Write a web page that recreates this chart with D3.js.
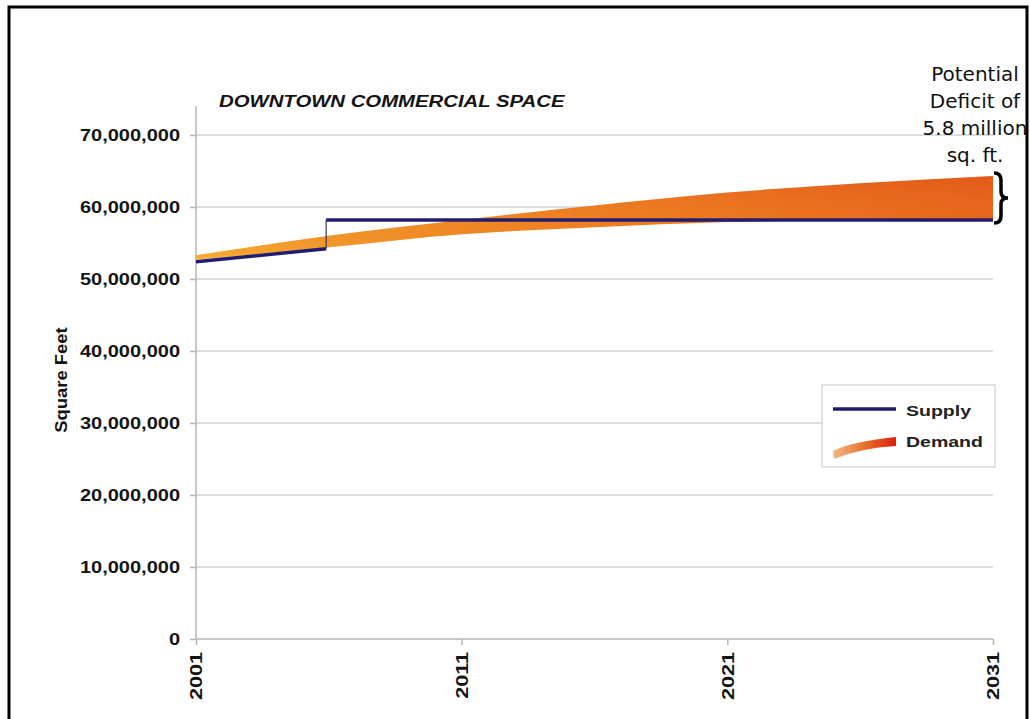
<!DOCTYPE html>
<html>
<head>
<meta charset="utf-8">
<script src="https://cdn.jsdelivr.net/npm/d3@7"></script>
<style>
  html, body { margin: 0; padding: 0; background: #fff; }
  svg { display: block; }
</style>
</head>
<body>
<svg id="chart" width="1030" height="719"></svg>
<script>
// ---------------- DATA ----------------
const years = [2001, 2006, 2011, 2016, 2021, 2026, 2031];
const demandHigh = [53.3e6, 56.0e6, 58.2e6, 60.2e6, 62.0e6, 63.3e6, 64.3e6];
const demandLow  = [52.7e6, 54.4e6, 56.2e6, 57.2e6, 57.9e6, 58.2e6, 58.3e6];
const supplyYears  = [2001, 2005.9, 2005.9, 2031];
const supplyValues = [52.4e6, 54.2e6, 58.2e6, 58.2e6];
const xTickYears = [2001, 2011, 2021, 2031];
const yTickValues = [0, 10e6, 20e6, 30e6, 40e6, 50e6, 60e6, 70e6];
const chartTitle = "DOWNTOWN COMMERCIAL SPACE";
const yAxisTitle = "Square Feet";
const legendLabels = ["Supply", "Demand"];
const noteLines = ["Potential", "Deficit of", "5.8 million", "sq. ft."];

// ---------------- SETUP ----------------
const svg = d3.select("#chart");
const x = d3.scaleLinear().domain([2001, 2031]).range([196, 993]);
const y = d3.scaleLinear().domain([0, 70e6]).range([639, 135]);
const fmt = d3.format(",");
const navy = "#221c6e";
const textCol = "#141414";
const baseFont = "'Liberation Sans', Arial, sans-serif";

function widen(sel, f) {
  sel.each(function () {
    const l = this.getComputedTextLength();
    d3.select(this).attr("textLength", l * f).attr("lengthAdjust", "spacingAndGlyphs");
  });
}

const defs = svg.append("defs");
const gH = defs.append("linearGradient").attr("id", "bandH")
  .attr("gradientUnits", "userSpaceOnUse")
  .attr("x1", x(2001)).attr("x2", x(2031)).attr("y1", 0).attr("y2", 0);
gH.append("stop").attr("offset", "0").attr("stop-color", "#f2a535");
gH.append("stop").attr("offset", "0.3").attr("stop-color", "#ef8a25");
gH.append("stop").attr("offset", "1").attr("stop-color", "#e8661c");
const gV = defs.append("linearGradient").attr("id", "bandV")
  .attr("x1", 0).attr("x2", 0).attr("y1", 0).attr("y2", 1);
gV.append("stop").attr("offset", "0").attr("stop-color", "#d83a14").attr("stop-opacity", 0.3);
gV.append("stop").attr("offset", "0.55").attr("stop-color", "#e87020").attr("stop-opacity", 0.0);
gV.append("stop").attr("offset", "1").attr("stop-color", "#ffb828").attr("stop-opacity", 0.45);
const gL = defs.append("linearGradient").attr("id", "legG")
  .attr("x1", 0).attr("x2", 1).attr("y1", 0).attr("y2", 0);
gL.append("stop").attr("offset", "0").attr("stop-color", "#f3b886");
gL.append("stop").attr("offset", "0.5").attr("stop-color", "#e8702a");
gL.append("stop").attr("offset", "1").attr("stop-color", "#dc1e10");

// ---------------- GRID ----------------
svg.append("g").selectAll("line").data(yTickValues.filter(d => d > 0)).join("line")
  .attr("x1", x(2001)).attr("x2", x(2031))
  .attr("y1", d => y(d)).attr("y2", d => y(d))
  .attr("stroke", "#d2d2d2").attr("stroke-width", 1.5);

// ---------------- AXES ----------------
const yAxis = svg.append("g").attr("transform", `translate(${x(2001)},0)`)
  .call(d3.axisLeft(y).tickValues(yTickValues).tickFormat(fmt).tickSize(6).tickPadding(10));
yAxis.select(".domain").attr("stroke", "#b5b5b5").attr("stroke-width", 1.5)
  .attr("d", `M0,${y(0)}V${y(70e6) - 29}`);
yAxis.selectAll(".tick line").attr("stroke", "#b5b5b5").attr("stroke-width", 1.5);
yAxis.selectAll(".tick text").attr("font-family", baseFont).attr("font-weight", "bold")
  .attr("font-size", 16).attr("fill", textCol);
widen(yAxis.selectAll(".tick text"), 1.25);

const xAxis = svg.append("g").attr("transform", `translate(0,${y(0)})`)
  .call(d3.axisBottom(x).tickValues(xTickYears).tickFormat(d3.format("d")).tickSize(6));
xAxis.select(".domain").attr("stroke", "#b5b5b5").attr("stroke-width", 1.5)
  .attr("d", `M${x(2001)},0H${x(2031)}`);
xAxis.selectAll(".tick line").attr("stroke", "#b5b5b5").attr("stroke-width", 1.5);
xAxis.selectAll(".tick text")
  .attr("font-family", baseFont).attr("font-weight", "bold").attr("font-size", 16)
  .attr("fill", textCol)
  .attr("text-anchor", "end")
  .attr("transform", "translate(0,13) rotate(-90)")
  .attr("x", 0).attr("y", 0).attr("dy", "0.36em");
widen(xAxis.selectAll(".tick text"), 1.35);

// y axis title
const yt = svg.append("text")
  .attr("transform", `translate(61,${(y(0) + y(70e6)) / 2 - 7}) rotate(-90)`)
  .attr("text-anchor", "middle").attr("dy", "0.36em")
  .attr("font-family", baseFont).attr("font-weight", "bold").attr("font-size", 16)
  .attr("fill", textCol).text(yAxisTitle);
widen(yt, 1.15);

// chart title
const tt = svg.append("text").attr("x", 219).attr("y", 107)
  .attr("font-family", baseFont).attr("font-weight", "bold").attr("font-style", "italic")
  .attr("font-size", 16).attr("fill", textCol).text(chartTitle);
widen(tt, 1.27);

// ---------------- DEMAND BAND ----------------
const band = years.map((yr, i) => ({ yr, lo: demandLow[i], hi: demandHigh[i] }));
const area = d3.area().x(d => x(d.yr)).y0(d => y(d.lo)).y1(d => y(d.hi))
  .curve(d3.curveMonotoneX);
svg.append("path").datum(band).attr("d", area).attr("fill", "url(#bandH)");
svg.append("path").datum(band).attr("d", area).attr("fill", "url(#bandV)");

// ---------------- SUPPLY ----------------
const sPts = supplyYears.map((yr, i) => ({ yr, v: supplyValues[i] }));
const line = d3.line().x(d => x(d.yr)).y(d => y(d.v));
svg.append("path").datum(sPts.slice(1, 3)).attr("d", line)
  .attr("stroke", "#3a3a50").attr("stroke-width", 1.2).attr("fill", "none");
[sPts.slice(0, 2), sPts.slice(2, 4)].forEach(seg => {
  svg.append("path").datum(seg).attr("d", line)
    .attr("stroke", navy).attr("stroke-width", 3.5).attr("fill", "none");
});

// ---------------- BRACE & NOTE ----------------
const bTop = y(demandHigh[demandHigh.length - 1]) - 3;
const bBot = y(supplyValues[supplyValues.length - 1]) + 3;
const bx = x(2031) + 1, bm = (bTop + bBot) / 2;
svg.append("path")
  .attr("d", `M${bx},${bTop} Q${bx + 7},${bTop} ${bx + 7},${bTop + 7} L${bx + 7},${bm - 6}
              Q${bx + 7},${bm} ${bx + 14},${bm} Q${bx + 7},${bm} ${bx + 7},${bm + 6}
              L${bx + 7},${bBot - 7} Q${bx + 7},${bBot} ${bx},${bBot}`)
  .attr("fill", "none").attr("stroke", "#000").attr("stroke-width", 3.5);

svg.append("g").selectAll("text").data(noteLines).join("text")
  .attr("x", 975).attr("y", (d, i) => 81 + i * 27)
  .attr("text-anchor", "middle")
  .attr("font-family", "'DejaVu Sans', Verdana, sans-serif").attr("font-size", 20)
  .attr("fill", "#111").text(d => d);

// ---------------- LEGEND ----------------
const lg = svg.append("g");
lg.append("rect").attr("x", 822).attr("y", 385).attr("width", 173).attr("height", 82)
  .attr("fill", "#fff").attr("stroke", "#cfcfcf").attr("stroke-width", 1.2);
lg.append("line").attr("x1", 833).attr("x2", 896).attr("y1", 409).attr("y2", 409)
  .attr("stroke", navy).attr("stroke-width", 3.5);
lg.append("path")
  .attr("d", "M833,451 Q850,442 896,437 L896,446 Q860,448 834,459 Z")
  .attr("fill", "url(#legG)");
const lt = lg.selectAll("text").data(legendLabels).join("text")
  .attr("x", 906).attr("y", (d, i) => 416 + i * 31)
  .attr("font-family", baseFont).attr("font-weight", "bold").attr("font-size", 15)
  .attr("fill", "#222").text(d => d);
widen(lt, 1.3);

// ---------------- FRAME ----------------
svg.append("rect").attr("x", 9).attr("y", 7).attr("width", 1018).attr("height", 730)
  .attr("fill", "none").attr("stroke", "#000").attr("stroke-width", 3);
</script>
</body>
</html>
